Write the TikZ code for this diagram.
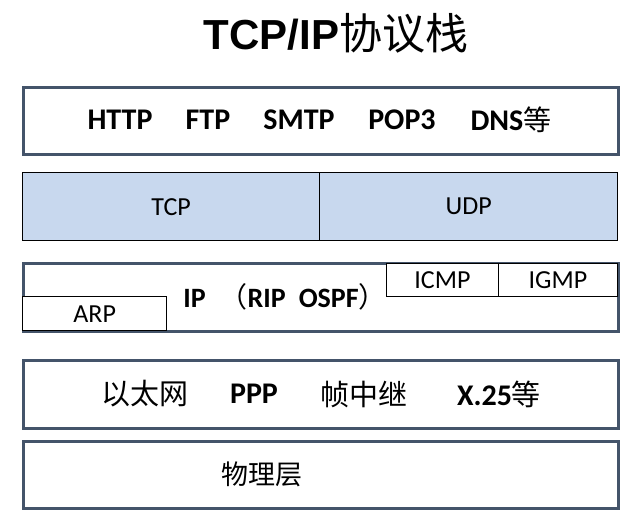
\documentclass[tikz,border=0pt]{standalone}
\usepackage{fontspec}
\setmainfont{Carlito}
\newfontfamily\titlefont{Liberation Sans}
\newfontfamily\cjk{Noto Sans CJK SC}
\definecolor{slate}{HTML}{44546A}
\definecolor{tcpblue}{HTML}{C8D8EE}
\tikzset{
  layer/.style={draw=slate, line width=2.6pt, minimum width=595pt, minimum height=67pt, inner sep=0pt, anchor=north west},
  sublayer/.style={draw=black, line width=1.4pt, fill=white, inner sep=0pt, anchor=north west, font=\fontsize{26}{28}\selectfont},
  lbl/.style={inner sep=0pt, font=\fontsize{30}{32}\selectfont\bfseries},
  cjklbl/.style={inner sep=0pt, font=\fontsize{29}{31}\selectfont\cjk},
}

\begin{document}
\begin{tikzpicture}[x=1pt,y=-1pt]
\useasboundingbox (0,0) rectangle (638,519);
% title
\node [inner sep=0pt] (title) at (336,33) {\fontsize{42}{44}\selectfont{\titlefont\bfseries TCP/IP}{\fontsize{43}{45}\selectfont\cjk 协议栈}};
% application layer
\node [layer] (app) at (22,86) {};
\node [lbl] (http) at (120,120) {HTTP};
\node [lbl] (ftp) at (208,120) {FTP};
\node [lbl] (smtp) at (299,120) {SMTP};
\node [lbl] (pop) at (402,120) {POP3};
\node [lbl] (dns) at (511,120) {DNS{\mdseries\fontsize{28}{30}\selectfont\cjk 等}};
% transport layer
\node [sublayer, fill=tcpblue, minimum width=297pt, minimum height=68pt] (tcp) at (22,172) {TCP};
\node [sublayer, fill=tcpblue, minimum width=298pt, minimum height=68pt] (udp) at (319,172) {UDP};
% network layer
\node [layer, minimum height=68pt] (net) at (22,262) {};
\node [sublayer, minimum width=144pt, minimum height=34pt] (arp) at (22,296) {ARP};
\node [sublayer, minimum width=111.5pt, minimum height=33pt] (icmp) at (386,262.5) {ICMP};
\node [sublayer, minimum width=119.5pt, minimum height=33pt] (igmp) at (497.5,262.5) {IGMP};
\node [lbl, font=\fontsize{28}{30}\selectfont\bfseries] (ip) at (285,297) {IP\hspace{14pt}{\mdseries\cjk （}RIP\hspace{13pt}OSPF{\mdseries\cjk ）}};
% link layer
\node [layer, minimum height=68pt] (link) at (22,359) {};
\node [cjklbl] (eth) at (145,394) {以太网};
\node [lbl] (ppp) at (254,394) {PPP};
\node [cjklbl] (frame) at (364,394) {帧中继};
\node [lbl] (x25) at (499,394) {X.25{\mdseries\fontsize{29}{31}\selectfont\cjk 等}};
% physical layer
\node [layer] (phy) at (22,440) {};
\node [cjklbl, font=\fontsize{27}{29}\selectfont\cjk] (phys) at (262,474) {物理层};
\end{tikzpicture}
\end{document}
